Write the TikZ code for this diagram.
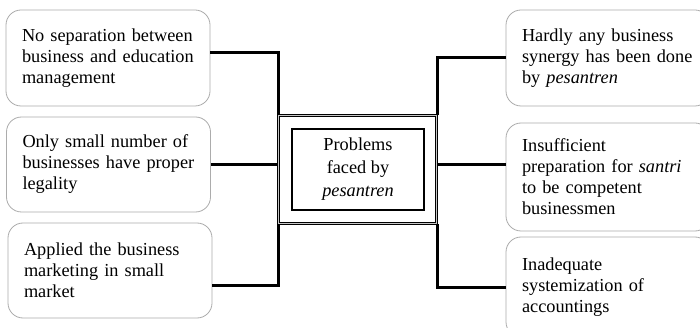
\documentclass[tikz,border=0pt]{standalone}
\usepackage{fontspec}
\setmainfont{Liberation Serif}
\begin{document}
\begin{tikzpicture}[x=1pt,y=-1pt,
  box/.style={draw=gray!65, line width=0.8pt, rounded corners=15pt, align=left,
    text width=172pt, inner xsep=16pt, inner ysep=0pt,
    font=\fontsize{18.3}{21}\selectfont},
  link/.style={line width=3pt},
  hub/.style={draw, double=gray!45, double distance=1.1pt, line width=1pt},
  core/.style={draw, line width=2.9pt, align=center, inner sep=0pt,
    font=\fontsize{18.3}{23}\selectfont}
]
\useasboundingbox (0,0) rectangle (700,328);
\clip (0,0) rectangle (700,328);
\fill[white] (0,0) rectangle (700,328);

\node[box, minimum height=96pt] (L1) at (108,58) {No separation between\\business and education\\management};
\node[box, minimum height=95pt] (L2) at (108.5,164.5) {Only small number of\\businesses have proper\\legality};
\node[box, minimum height=95pt] (L3) at (110,270.5) {Applied the business\\marketing in small\\market};

\node[box, minimum height=96pt] (R1) at (608,58) {Hardly any business\\synergy has been done\\by \textit{pesantren}};
\node[box, minimum height=108pt] (R2) at (608,177) {Insufficient\\preparation for \textit{santri}\\to be competent\\businessmen};
\node[box, minimum height=100pt] (R3) at (608,287) {Inadequate\\systemization of\\accountings};

\node[hub, minimum width=158pt, minimum height=108pt] (outer) at (357.5,169.5) {};
\node[core, minimum width=132pt, minimum height=81pt] (center) at (358,169.5) {Problems\\faced by\\\textit{pesantren}};

\draw[link] ([yshift=5pt]L1.east) -| (outer.north west);
\draw[link] (L2.east) -- (L2.east -| outer.west);
\draw[link] ([yshift=-15pt]L3.east) -| (outer.south west);
\draw[link] (R1.west) -| (outer.north east);
\draw[link] ([yshift=12pt]R2.west) -- ([yshift=12pt]R2.west -| outer.east);
\draw[link] (R3.west) -| (outer.south east);
\end{tikzpicture}
\end{document}
